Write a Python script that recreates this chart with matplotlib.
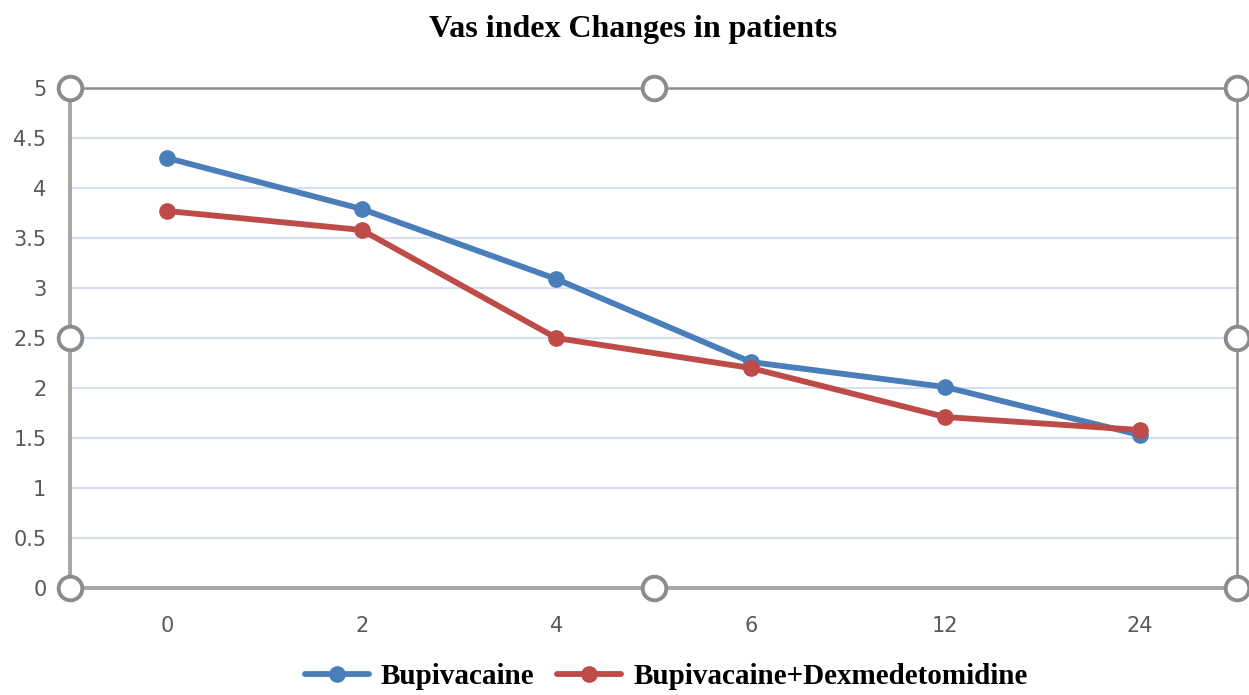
import matplotlib
matplotlib.use("Agg")
import matplotlib.pyplot as plt
import numpy as np

categories = ["0", "2", "4", "6", "12", "24"]
bupivacaine = [4.30, 3.79, 3.09, 2.26, 2.01, 1.53]
bupi_dex = [3.77, 3.58, 2.50, 2.20, 1.71, 1.58]
series_names = ["Bupivacaine", "Bupivacaine+Dexmedetomidine"]
yticks = [0, 0.5, 1, 1.5, 2, 2.5, 3, 3.5, 4, 4.5, 5]

W, H = 1249, 695
fig = plt.figure(figsize=(W / 100, H / 100), dpi=100)
ax = fig.add_axes([70 / W, 1 - 588 / H, (1237 - 70) / W, (588 - 88) / H])

x = np.arange(len(categories))
blue = "#4A7EBB"
red = "#BE4B48"
ax.plot(x, bupivacaine, color=blue, lw=4.2, marker="o", ms=11, label=series_names[0],
        solid_capstyle="round", zorder=3)
ax.plot(x, bupi_dex, color=red, lw=4.2, marker="o", ms=11, label=series_names[1],
        solid_capstyle="round", zorder=4)

ax.set_xlim(-0.5, len(categories) - 0.5)
ax.set_ylim(0, 5)
ax.set_yticks(yticks)
ax.set_yticklabels([f"{v:g}" for v in yticks])
ax.set_xticks(x)
ax.set_xticklabels(categories)
ax.tick_params(length=0, labelsize=15, labelcolor="#595959")
ax.tick_params(axis="x", pad=20)
ax.tick_params(axis="y", pad=17)
ax.grid(axis="y", color="#D6E0F0", lw=1.5, zorder=0)
ax.set_axisbelow(True)

for side in ["left", "bottom"]:
    ax.spines[side].set_color("#A6A6A6")
    ax.spines[side].set_linewidth(2.8)
for side in ["top", "right"]:
    ax.spines[side].set_color("#8C8C8C")
    ax.spines[side].set_linewidth(1.8)

# selection handles
hx = [0, 0.5, 1, 0, 1, 0, 0.5, 1]
hy = [1, 1, 1, 0.5, 0.5, 0, 0, 0]
ax.plot(hx, hy, ls="none", marker="o", ms=17, mfc="white", mec="#8C8C8C", mew=2.8,
        transform=ax.transAxes, clip_on=False, zorder=10)

fig.text(633 / W, 1 - 29 / H, "Vas index Changes in patients", ha="center", va="center",
         fontsize=23, fontweight="bold", family="Liberation Serif")

leg = fig.legend(loc="center", bbox_to_anchor=(666 / W, 1 - 677 / H), ncol=2, frameon=False,
                 prop={"family": "Liberation Serif", "weight": "bold", "size": 21},
                 handlelength=2.2, columnspacing=0.8, handletextpad=0.4)

fig.savefig("out.png", dpi=100)
